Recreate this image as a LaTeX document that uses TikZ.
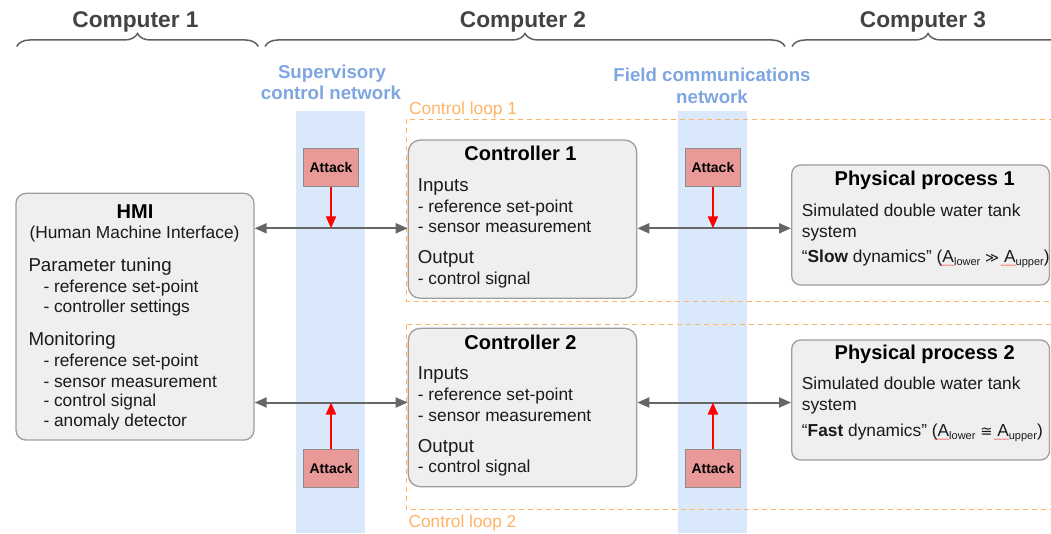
\documentclass[tikz,border=0pt]{standalone}
\usepackage{fontspec}
\setmainfont{Liberation Sans}
\newfontfamily\dejavu{DejaVu Sans}
\usetikzlibrary{arrows.meta,decorations.pathreplacing}
\definecolor{boxfill}{HTML}{EFEFEF}
\definecolor{boxline}{HTML}{9E9E9E}
\definecolor{arrowgray}{HTML}{666666}
\definecolor{attackfill}{HTML}{EA9999}
\definecolor{attackline}{HTML}{8C8C8C}
\definecolor{bandblue}{HTML}{DAE8FC}
\definecolor{netblue}{HTML}{7EA6E0}
\definecolor{looporange}{HTML}{FFB366}
\definecolor{compgray}{HTML}{434343}
\definecolor{bracegray}{HTML}{5F5F5F}
\definecolor{txtdark}{HTML}{1A1A1A}
\newcommand\rwav{\llap{\raisebox{-2.2pt}{\color{red}\dejavu\fontsize{6}{6}\selectfont\kern-1pt∼\kern-1.2pt∼\kern-1.2pt∼\kern-1.2pt∼\kern-1pt}}}
\newcommand\subtxt[1]{\raisebox{-3.5pt}{\fontsize{11}{11}\selectfont #1}}
\begin{document}
\begin{tikzpicture}[x=1pt,y=-1pt,
  t/.style={inner sep=0pt,text depth=0pt,text=txtdark},
  txt/.style={t,anchor=west,text height=12.1pt,font=\fontsize{17.33}{20}\selectfont},
  ctxt/.style={t,text height=12.1pt,font=\fontsize{17.33}{20}\selectfont},
  head/.style={t,anchor=west,text height=13.1pt,font=\fontsize{18.67}{22}\selectfont},
  ttl/.style={t,text=black,text height=14pt,font=\fontsize{20}{24}\selectfont\bfseries},
  comp/.style={t,text=compgray,text height=15.9pt,font=\fontsize{22.7}{26}\selectfont\bfseries},
  netlab/.style={t,text=netblue,text height=13.1pt,font=\fontsize{18.67}{22}\selectfont\bfseries},
  looplab/.style={t,anchor=west,text=looporange,text height=12.1pt,font=\fontsize{17.33}{20}\selectfont},
  box/.style={draw=boxline,fill=boxfill,line width=1.3pt,rounded corners=12pt,inner sep=0pt},
  attack/.style={draw=attackline,fill=attackfill,line width=1pt,minimum width=55pt,minimum height=37.7pt,inner sep=0pt,text=black,font=\fontsize{14}{14}\selectfont\bfseries},
  biarrow/.style={draw=arrowgray,line width=2pt,{Triangle[length=12pt,width=10pt]}-{Triangle[length=12pt,width=10pt]}},
  redarrow/.style={draw=red,line width=2pt,-{Triangle[length=12pt,width=10pt]}},
  bracestyle/.style={draw=bracegray,line width=1.5pt,decorate,decoration={brace,amplitude=13pt}},
  loopbox/.style={draw=looporange,line width=1.6pt,dash pattern=on 5pt off 4pt}
]
\useasboundingbox (0,0) rectangle (1051,534);
\clip (0,0) rectangle (1051,534);

% computer braces and labels
\draw[bracestyle] (16.7,46.5) -- (258.3,46.5);
\draw[bracestyle] (265,46.5) -- (785,46.5);
\draw[bracestyle] (792,46.5) -- (1064,46.5);
\node[comp] (comp1) at (135.5,20) {Computer 1};
\node[comp] (comp2) at (523,20) {Computer 2};
\node[comp] (comp3) at (923,20) {Computer 3};

% network bands
\fill[bandblue] (296,110.7) rectangle (365.3,533);
\fill[bandblue] (678.3,110.7) rectangle (747.3,533);
\node[netlab] (sup1) at (332,71.7) {Supervisory};
\node[netlab] (sup2) at (331,93.3) {control network};
\node[netlab] (fld1) at (712,75) {Field communications};
\node[netlab] (fld2) at (712,96.7) {network};

% control loops
\draw[loopbox] (406.5,119.5) rectangle (1070,301.5);
\draw[loopbox] (406.5,324.5) rectangle (1070,509.5);
\node[looplab] (loop1) at (409,108.3) {Control loop 1};
\node[looplab] (loop2) at (408.3,521.7) {Control loop 2};

% boxes
\node[box,rounded corners=10pt,minimum width=238pt,minimum height=246.7pt] (hmi) at (135,316.7) {};
\node[box,minimum width=228.4pt,minimum height=158.3pt] (c1) at (522.5,219.2) {};
\node[box,minimum width=228.4pt,minimum height=158.4pt] (c2) at (522.5,407.5) {};
\node[box,rounded corners=9pt,minimum width=257.8pt,minimum height=120pt] (pp1) at (920.6,225) {};
\node[box,rounded corners=9pt,minimum width=257.8pt,minimum height=120pt] (pp2) at (920.6,400) {};

% HMI text
\node[ttl] (hmit) at (135,211.7) {HMI};
\node[ctxt] (hmis) at (134.5,232.3) {(Human Machine Interface)};
\node[head] (hmip) at (28.3,265) {Parameter tuning};
\node[txt] (hmip1) at (43.3,286) {- reference set-point};
\node[txt] (hmip2) at (43.3,306) {- controller settings};
\node[head] (hmim) at (28.3,339.3) {Monitoring};
\node[txt] (hmim1) at (43.3,360) {- reference set-point};
\node[txt] (hmim2) at (43.3,381) {- sensor measurement};
\node[txt] (hmim3) at (43.3,400.7) {- control signal};
\node[txt] (hmim4) at (43.3,420.7) {- anomaly detector};

% Controller 1 text
\node[ttl] (c1t) at (520.5,153.3) {Controller 1};
\node[head] (c1i) at (417.7,185) {Inputs};
\node[txt] (c1i1) at (417.7,206) {- reference set-point};
\node[txt] (c1i2) at (417.7,226.7) {- sensor measurement};
\node[head] (c1o) at (417.7,256.7) {Output};
\node[txt] (c1o1) at (417.7,278.3) {- control signal};

% Controller 2 text
\node[ttl] (c2t) at (520.5,342.7) {Controller 2};
\node[head] (c2i) at (417.7,373.3) {Inputs};
\node[txt] (c2i1) at (417.7,394) {- reference set-point};
\node[txt] (c2i2) at (417.7,415) {- sensor measurement};
\node[head] (c2o) at (417.7,446) {Output};
\node[txt] (c2o1) at (417.7,466.7) {- control signal};

% Physical process 1 text
\node[ttl] (pp1t) at (924.7,178.3) {Physical process 1};
\node[txt] (pp1a) at (801.7,210.5) {Simulated double water tank};
\node[txt] (pp1b) at (801.7,231) {system};
\node[txt] (pp1c) at (801.7,256) {“\textbf{Slow} dynamics” (A\subtxt{\rwav lower}\ {\dejavu\fontsize{13.5}{14}\selectfont ≫}\ A\subtxt{\rwav upper})};

% Physical process 2 text
\node[ttl] (pp2t) at (924.7,352.7) {Physical process 2};
\node[txt] (pp2a) at (801.7,383.3) {Simulated double water tank};
\node[txt] (pp2b) at (801.7,404) {system};
\node[txt] (pp2c) at (801.7,430) {“\textbf{Fast} dynamics” (A\subtxt{\rwav lower}\ {\dejavu\fontsize{14.5}{15}\selectfont ≅}\ A\subtxt{\rwav upper})};

% connection rows
\coordinate (r1) at (0,228.3);
\coordinate (r2) at (0,402.5);
\draw[biarrow] (hmi.east |- r1) -- (c1.west |- r1);
\draw[biarrow] (c1.east |- r1) -- (pp1.west |- r1);
\draw[biarrow] (hmi.east |- r2) -- (c2.west |- r2);
\draw[biarrow] (c2.east |- r2) -- (pp2.west |- r2);

% attacks
\node[attack] (a1) at (331,167.2) {Attack};
\node[attack] (a2) at (712.9,167.2) {Attack};
\node[attack] (a3) at (331,468.3) {Attack};
\node[attack] (a4) at (712.9,468.3) {Attack};
\draw[redarrow] (a1.south) -- (a1.south |- r1);
\draw[redarrow] (a2.south) -- (a2.south |- r1);
\draw[redarrow] (a3.north) -- (a3.north |- r2);
\draw[redarrow] (a4.north) -- (a4.north |- r2);
\end{tikzpicture}
\end{document}
